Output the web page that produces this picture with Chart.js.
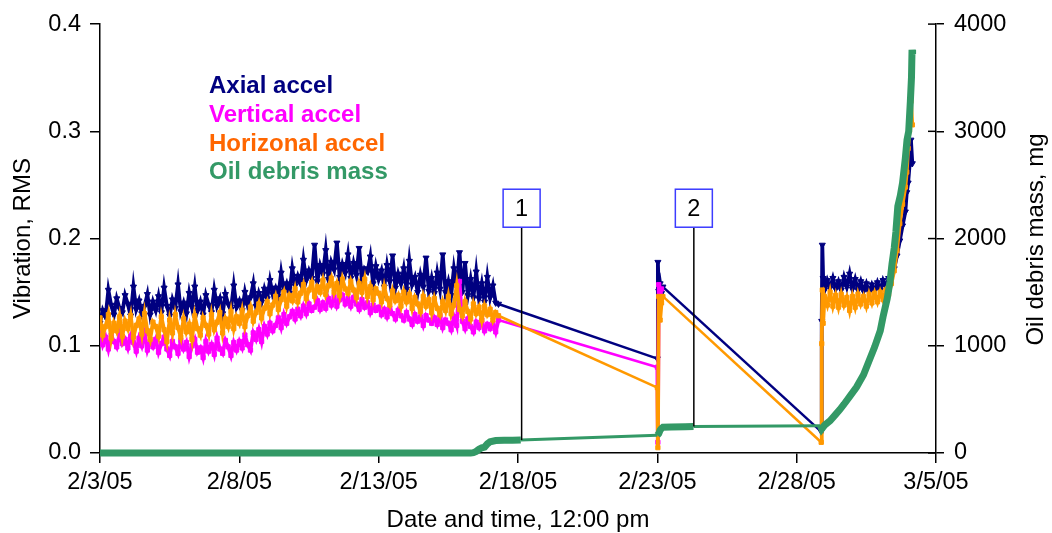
<!DOCTYPE html>
<html><head><meta charset="utf-8">
<script src="https://cdn.jsdelivr.net/npm/chart.js@4.4.1/dist/chart.umd.min.js"></script>
<style>html,body{margin:0;padding:0;background:#fff;}#wrap{width:1052px;height:533px;}</style>
</head><body><div id="wrap"><canvas id="c" width="1052" height="533"></canvas></div>
<script>
// ---- x axis (days after 2/3/05 12:00 pm) ----
const xTickDays = [0, 5, 10, 15, 20, 25, 30];
const xTickLabels = ['2/3/05', '2/8/05', '2/13/05', '2/18/05', '2/23/05', '2/28/05', '3/5/05'];

// ---- vibration sample times (days) ----
const vibDays = [
 0.0,0.1,0.2,0.3,0.4,0.5,0.6,0.7,0.8,0.9,
 1.0,1.1,1.2,1.3,1.4,1.5,1.6,1.7,1.8,1.9,
 2.0,2.1,2.2,2.3,2.4,2.5,2.6,2.7,2.8,2.9,
 3.0,3.1,3.2,3.3,3.4,3.5,3.6,3.7,3.8,3.9,
 4.0,4.1,4.2,4.3,4.4,4.5,4.6,4.7,4.8,4.9,
 5.0,5.1,5.2,5.3,5.4,5.5,5.6,5.7,5.8,5.9,
 6.0,6.1,6.2,6.3,6.4,6.5,6.6,6.7,6.8,6.9,
 7.0,7.1,7.2,7.3,7.4,7.5,7.6,7.7,7.8,7.9,
 8.0,8.1,8.2,8.3,8.4,8.5,8.6,8.7,8.8,8.9,
 9.0,9.1,9.2,9.3,9.4,9.5,9.6,9.7,9.8,9.9,
 10.0,10.1,10.2,10.3,10.4,10.5,10.6,10.7,10.8,10.9,
 11.0,11.1,11.2,11.3,11.4,11.5,11.6,11.7,11.8,11.9,
 12.0,12.1,12.2,12.3,12.4,12.5,12.6,12.7,12.8,12.9,
 13.0,13.1,13.2,13.3,13.4,13.5,13.6,13.7,13.8,13.9,
 14.0,14.1,14.2,14.3,
 20.0,20.02,20.05,20.1,20.15,20.2,
 25.88,
 25.90,25.92,25.95,
 26.0,26.1,26.2,26.3,26.4,26.5,26.6,26.7,26.8,26.9,
 27.0,27.1,27.2,27.3,27.4,27.5,27.6,27.7,27.8,27.9,
 28.0,28.1,28.2,28.3,28.4,28.5,28.6,28.7,28.8,28.9,
 28.95,29.0,29.05,29.1,29.15
];

// Axial accel (RMS)
const axial = [
 0.121,0.133,0.127,0.152,0.138,0.129,0.144,0.135,0.131,0.147,
 0.139,0.128,0.155,0.134,0.142,0.130,0.137,0.148,0.129,0.141,
 0.133,0.146,0.131,0.154,0.137,0.128,0.143,0.135,0.157,0.132,
 0.140,0.130,0.149,0.136,0.155,0.133,0.141,0.129,0.147,0.138,
 0.131,0.152,0.137,0.144,0.130,0.148,0.139,0.134,0.156,0.136,
 0.142,0.133,0.150,0.138,0.145,0.158,0.137,0.149,0.141,0.153,
 0.144,0.161,0.148,0.154,0.146,0.168,0.151,0.158,0.149,0.172,
 0.156,0.165,0.158,0.180,0.161,0.170,0.163,0.194,0.160,0.175,
 0.167,0.189,0.162,0.178,0.171,0.196,0.164,0.176,0.168,0.185,
 0.163,0.177,0.166,0.191,0.160,0.172,0.169,0.183,0.158,0.174,
 0.162,0.170,0.155,0.175,0.160,0.184,0.154,0.167,0.158,0.172,
 0.153,0.179,0.157,0.164,0.150,0.166,0.155,0.182,0.151,0.163,
 0.149,0.168,0.153,0.185,0.150,0.160,0.147,0.172,0.155,0.187,
 0.150,0.177,0.147,0.162,0.145,0.169,0.144,0.158,0.141,0.164,
 0.145,0.156,0.140,0.139,
 0.088,0.178,0.151,0.158,0.149,0.155,
 0.020,
 0.123,0.194,0.163,
 0.152,0.161,0.154,0.163,0.153,0.160,0.152,0.164,0.155,0.167,
 0.153,0.162,0.152,0.160,0.151,0.158,0.150,0.157,0.151,0.159,
 0.152,0.161,0.155,0.163,0.166,0.172,0.184,0.198,0.212,0.225,
 0.243,0.252,0.268,0.292,0.270
];

// Vertical accel (RMS) - sensor data ends at 2/23
const vertical = [
 0.113,0.101,0.108,0.097,0.110,0.104,0.099,0.111,0.102,0.106,
 0.098,0.109,0.103,0.095,0.107,0.100,0.111,0.096,0.104,0.099,
 0.106,0.094,0.102,0.108,0.097,0.091,0.104,0.099,0.093,0.105,
 0.097,0.103,0.090,0.100,0.106,0.094,0.098,0.089,0.104,0.095,
 0.101,0.092,0.107,0.097,0.093,0.105,0.099,0.091,0.103,0.096,
 0.104,0.098,0.110,0.101,0.096,0.112,0.106,0.115,0.104,0.118,
 0.111,0.121,0.114,0.119,0.126,0.117,0.129,0.121,0.127,0.132,
 0.125,0.134,0.128,0.137,0.130,0.139,0.133,0.136,0.142,0.134,
 0.140,0.135,0.144,0.138,0.146,0.137,0.143,0.147,0.139,0.144,
 0.137,0.145,0.139,0.134,0.143,0.136,0.140,0.131,0.138,0.133,
 0.136,0.129,0.134,0.127,0.135,0.130,0.125,0.133,0.128,0.124,
 0.131,0.125,0.120,0.129,0.123,0.127,0.119,0.128,0.124,0.121,
 0.126,0.120,0.128,0.117,0.124,0.121,0.115,0.127,0.119,0.160,
 0.123,0.116,0.125,0.118,0.113,0.122,0.117,0.124,0.114,0.120,
 0.116,0.121,0.113,0.124,
 0.080,0.010,0.157,0.150,0.153
];

// Horizonal accel (RMS)
const horizontal = [
 0.126,0.110,0.118,0.129,0.107,0.121,0.114,0.127,0.109,0.123,
 0.116,0.128,0.108,0.119,0.125,0.111,0.130,0.114,0.106,0.122,
 0.118,0.109,0.127,0.115,0.104,0.124,0.112,0.129,0.117,0.108,
 0.125,0.113,0.120,0.106,0.128,0.116,0.110,0.126,0.119,0.111,
 0.129,0.115,0.122,0.131,0.112,0.125,0.118,0.132,0.116,0.127,
 0.121,0.133,0.118,0.128,0.136,0.123,0.131,0.139,0.126,0.135,
 0.141,0.130,0.138,0.146,0.134,0.143,0.150,0.137,0.147,0.142,
 0.153,0.141,0.149,0.157,0.144,0.152,0.159,0.146,0.155,0.150,
 0.161,0.148,0.156,0.163,0.150,0.158,0.147,0.162,0.153,0.149,
 0.160,0.152,0.145,0.158,0.150,0.162,0.146,0.155,0.143,0.153,
 0.149,0.141,0.155,0.144,0.138,0.151,0.142,0.147,0.137,0.150,
 0.141,0.148,0.135,0.145,0.139,0.132,0.146,0.137,0.143,0.131,
 0.144,0.135,0.129,0.141,0.133,0.146,0.130,0.138,0.156,0.134,
 0.128,0.141,0.132,0.125,0.139,0.130,0.136,0.124,0.137,0.129,
 0.134,0.124,0.131,0.128,
 0.061,0.005,0.146,0.124,0.140,0.146,
 0.010,
 0.102,0.152,0.121,
 0.146,0.138,0.150,0.137,0.147,0.136,0.148,0.138,0.145,0.133,
 0.146,0.136,0.148,0.139,0.146,0.137,0.148,0.140,0.149,0.141,
 0.150,0.143,0.152,0.148,0.158,0.170,0.189,0.214,0.232,0.248,
 0.262,0.284,0.301,0.328,0.306
];

// Oil debris mass (mg)
const oilDays = [
 0,1,2,3,4,5,6,7,8,9,10,11,12,13,
 13.3,13.4,13.5,13.6,13.7,13.8,13.9,14.0,14.2,14.5,14.8,15.1,
 20.0,20.05,20.1,20.15,20.2,20.5,21.0,21.3,
 25.85,25.9,26.0,26.2,26.4,26.55,26.7,26.9,27.15,27.4,27.6,27.8,28.0,28.1,28.25,28.35,28.42,28.5,28.56,28.63,28.72,28.8,28.9,28.96,29.02,29.08,29.12,29.14,29.16
];
const oilMass = [
 0,0,0,0,0,0,0,0,0,0,0,0,0,0,
 0,3,15,35,48,55,85,105,116,119,120,121,
 165,180,212,230,240,243,245,246,
 255,225,258,300,360,405,455,525,615,730,860,990,1140,1270,1440,1600,1760,1910,2060,2300,2400,2520,2750,2920,3000,3280,3500,3760,3720
];

// Event markers
const annotLabels = ['1', '2'];
const annotDays = [15.13, 21.31];
const annotMass = [121, 246];
const annotBoxTop = 0.246;   // left-axis value of box top

const legendNames = ['Axial accel', 'Vertical accel', 'Horizonal accel', 'Oil debris mass'];
const legendColors = ['#000080', '#FF00FF', '#FF6600', '#339966'];

const FONT = "'Liberation Sans', Arial, sans-serif";
Chart.defaults.font.family = FONT;
Chart.defaults.color = '#000';

function pts(xs, ys) { return ys.map((v, i) => ({ x: xs[i], y: v })); }
const gapWidth = (dense, sparse) => (c) => (Math.abs(c.p1.parsed.x - c.p0.parsed.x) > 2 ? sparse : dense);

const decor = {
  id: 'decor',
  afterDraw(chart) {
    const { ctx, chartArea: ca, scales } = chart;
    const xs = scales.x, yl = scales.y, yr = scales.y2;
    ctx.save();
    ctx.strokeStyle = '#000'; ctx.lineWidth = 1.5;
    yr.ticks.forEach(t => {
      const py = yr.getPixelForValue(t.value);
      ctx.beginPath(); ctx.moveTo(ca.right - 8, py); ctx.lineTo(ca.right, py); ctx.stroke();
    });
    annotLabels.forEach((lab, i) => {
      const px = xs.getPixelForValue(annotDays[i]);
      const top = yl.getPixelForValue(annotBoxTop);
      const w = 37, h = 38;
      const yEnd = yr.getPixelForValue(annotMass[i]);
      ctx.strokeStyle = '#000'; ctx.lineWidth = 1.5;
      ctx.beginPath(); ctx.moveTo(px, top + h); ctx.lineTo(px, yEnd); ctx.stroke();
      ctx.fillStyle = '#fff';
      ctx.fillRect(px - w / 2, top, w, h);
      ctx.strokeStyle = '#3c3cff'; ctx.lineWidth = 1.5;
      ctx.strokeRect(px - w / 2, top, w, h);
      ctx.fillStyle = '#000'; ctx.font = '23.5px ' + FONT;
      ctx.textAlign = 'center'; ctx.textBaseline = 'middle';
      ctx.fillText(lab, px, top + h / 2 + 1);
    });
    ctx.font = 'bold 24px ' + FONT; ctx.textAlign = 'left'; ctx.textBaseline = 'alphabetic';
    legendNames.forEach((n, i) => { ctx.fillStyle = legendColors[i]; ctx.fillText(n, 209, 93 + i * 28.8); });
    ctx.fillStyle = '#000'; ctx.font = '24px ' + FONT; ctx.textAlign = 'center';
    ctx.fillText('Date and time, 12:00 pm', (ca.left + ca.right) / 2, 527);
    const midY = (ca.top + ca.bottom) / 2;
    ctx.save(); ctx.translate(30, midY); ctx.rotate(-Math.PI / 2); ctx.fillText('Vibration, RMS', 0, 0); ctx.restore();
    ctx.save(); ctx.translate(1043, midY + 1); ctx.rotate(-Math.PI / 2); ctx.fillText('Oil debris mass, mg', 0, 0); ctx.restore();
    ctx.restore();
  }
};

const axisGrid = (len) => ({ display: true, drawOnChartArea: false, drawTicks: true, tickLength: len, color: '#000', lineWidth: 1.5 });
const axisBorder = { display: true, color: '#000', width: 1.5 };

new Chart(document.getElementById('c'), {
  type: 'line',
  data: {
    datasets: [
      { label: 'Oil debris mass', data: pts(oilDays, oilMass), yAxisID: 'y2', borderColor: '#339966', backgroundColor: '#339966',
        borderWidth: 7, pointRadius: 0, tension: 0, order: 0, clip: false,
        segment: { borderWidth: gapWidth(7, 3) } },
      { label: 'Horizonal accel', data: pts(vibDays, horizontal), yAxisID: 'y', borderColor: '#FF9900', backgroundColor: '#FF9900',
        borderWidth: 3.5, pointStyle: 'rect', pointRadius: 3, pointBorderWidth: 1, tension: 0, order: 1,
        segment: { borderWidth: gapWidth(3.8, 2.5) } },
      { label: 'Vertical accel', data: pts(vibDays, vertical), yAxisID: 'y', borderColor: '#FF00FF', backgroundColor: '#FF00FF',
        borderWidth: 3.5, pointStyle: 'rect', pointRadius: 3, pointBorderWidth: 1, tension: 0, order: 2,
        segment: { borderWidth: gapWidth(3.8, 2.5) } },
      { label: 'Axial accel', data: pts(vibDays, axial), yAxisID: 'y', borderColor: '#000080', backgroundColor: '#000080',
        borderWidth: 3.5, pointStyle: 'triangle', pointRotation: 180, pointRadius: 3.5, pointBorderWidth: 1, tension: 0, order: 3,
        segment: { borderWidth: gapWidth(3.8, 2.5) } }
    ]
  },
  options: {
    responsive: false, animation: false, devicePixelRatio: 1, events: [],
    layout: { padding: { top: 19, left: 0, right: 0, bottom: 0 } },
    plugins: { legend: { display: false }, tooltip: { enabled: false }, title: { display: false } },
    scales: {
      x: { type: 'linear', position: 'bottom', min: 0, max: 30,
        afterFit: s => { s.height = 80; },
        afterBuildTicks: s => { s.ticks = xTickDays.map(v => ({ value: v })); },
        ticks: { autoSkip: false, maxRotation: 0, padding: 5, font: { size: 23.5 }, color: '#000',
          callback: v => xTickLabels[xTickDays.indexOf(v)] },
        grid: axisGrid(10), border: axisBorder },
      y: { type: 'linear', position: 'left', min: 0, max: 0.4,
        afterFit: s => { s.width = 100; },
        ticks: { stepSize: 0.1, padding: 9, font: { size: 23.5 }, color: '#000', callback: v => Number(v).toFixed(1) },
        grid: axisGrid(10), border: axisBorder },
      y2: { type: 'linear', position: 'right', min: 0, max: 4000,
        afterFit: s => { s.width = 116; },
        ticks: { stepSize: 1000, padding: 10, font: { size: 23.5 }, color: '#000', callback: v => String(v) },
        grid: axisGrid(8), border: axisBorder }
    }
  },
  plugins: [decor]
});
</script>
</body></html>
